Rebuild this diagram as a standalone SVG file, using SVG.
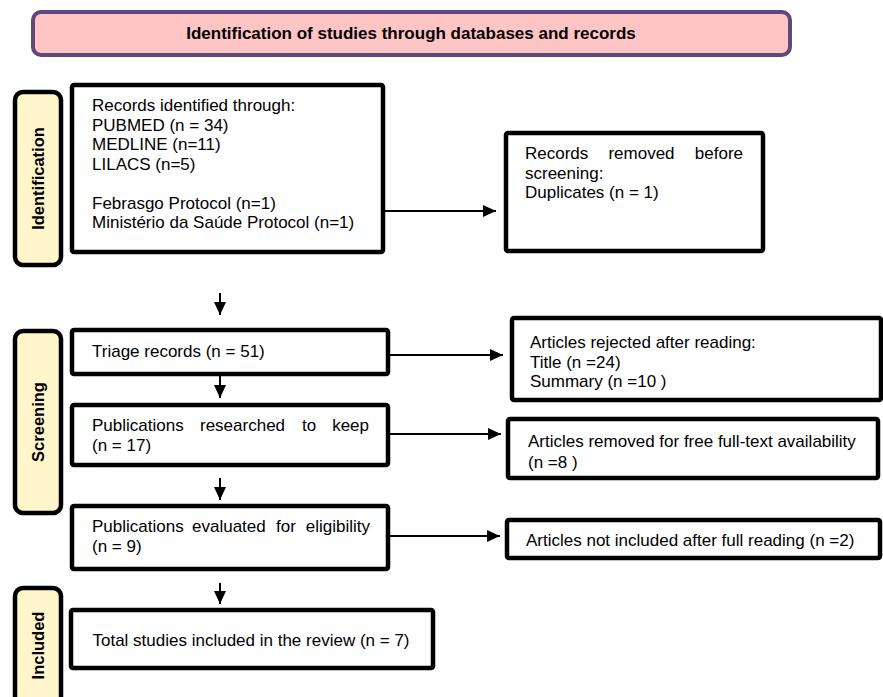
<svg xmlns="http://www.w3.org/2000/svg" width="883" height="697" viewBox="0 0 883 697">
<style>
.bg{fill:#ffffff}
.box{fill:#ffffff;stroke:#000000;stroke-width:4.5}
.side{fill:#FFF6CC;stroke:#000000;stroke-width:4.5}
.title{fill:#FFC4C4;stroke:#5E4A7A;stroke-width:4}
text{font-family:"Liberation Sans",Arial,sans-serif;fill:#000000}
.t{font-size:17px}
.tb{font-size:17px;font-weight:bold}
.sl{font-size:16.5px;font-weight:bold}
.c{stroke:#000000;stroke-width:2;fill:none}
</style>
<defs>
<marker id="ah" markerUnits="userSpaceOnUse" markerWidth="13" markerHeight="12" refX="13" refY="6" orient="auto">
<path d="M0,0 L13,6 L0,12 z" fill="#000000"/>
</marker>
</defs>
<rect class="bg" x="0" y="0" width="883" height="697"/>

<g id="title">
<rect class="title" x="33" y="12" width="757" height="43" rx="8"/>
<text class="tb" x="411" y="39" text-anchor="middle">Identification of studies through databases and records</text>
</g>

<g id="label-identification">
<rect class="side" x="15" y="92" width="46" height="173" rx="8"/>
<text class="sl" transform="translate(44,178.5) rotate(-90)" text-anchor="middle">Identification</text>
</g>
<g id="label-screening">
<rect class="side" x="15" y="331" width="46" height="182" rx="8"/>
<text class="sl" transform="translate(44,422) rotate(-90)" text-anchor="middle">Screening</text>
</g>
<g id="label-included">
<rect class="side" x="15" y="588" width="46" height="125" rx="8"/>
<text class="sl" transform="translate(44,645.5) rotate(-90)" text-anchor="middle">Included</text>
</g>

<g id="records-identified">
<rect class="box" x="72" y="85" width="311" height="167" rx="2"/>
<text class="t" x="92" y="111">Records identified through:</text>
<text class="t" x="92" y="130.5">PUBMED (n = 34)</text>
<text class="t" x="92" y="150">MEDLINE (n=11)</text>
<text class="t" x="92" y="169.5">LILACS (n=5)</text>
<text class="t" x="92" y="208.5">Febrasgo Protocol (n=1)</text>
<text class="t" x="92" y="228">Ministério da Saúde Protocol (n=1)</text>
</g>

<g id="records-removed">
<rect class="box" x="506" y="133" width="257" height="118" rx="2"/>
<text class="t" y="159"><tspan x="525">Records</tspan><tspan x="641.5" text-anchor="middle">removed</tspan><tspan x="743" text-anchor="end">before</tspan></text>
<text class="t" x="525" y="178.5">screening:</text>
<text class="t" x="525" y="198">Duplicates (n = 1)</text>
</g>

<g id="triage">
<rect class="box" x="72" y="330" width="316" height="44" rx="2"/>
<text class="t" x="92" y="357">Triage records (n = 51)</text>
</g>

<g id="rejected">
<rect class="box" x="512" y="318" width="369" height="82" rx="2"/>
<text class="t" x="530" y="348">Articles rejected after reading:</text>
<text class="t" x="530" y="367.5">Title (n =24)</text>
<text class="t" x="530" y="387">Summary (n =10 )</text>
</g>

<g id="researched">
<rect class="box" x="72" y="405" width="316" height="60" rx="2"/>
<text class="t" y="431"><tspan x="92">Publications</tspan><tspan x="200">researched</tspan><tspan x="302">to</tspan><tspan x="369" text-anchor="end">keep</tspan></text>
<text class="t" x="92" y="451">(n = 17)</text>
</g>

<g id="removed-fulltext">
<rect class="box" x="508" y="419" width="370" height="59" rx="2"/>
<text class="t" x="528" y="447">Articles removed for free full-text availability</text>
<text class="t" x="528" y="467.5">(n =8 )</text>
</g>

<g id="eligibility">
<rect class="box" x="72" y="506" width="316" height="63" rx="2"/>
<text class="t" y="532"><tspan x="92">Publications</tspan><tspan x="192">evaluated</tspan><tspan x="276">for</tspan><tspan x="370" text-anchor="end">eligibility</tspan></text>
<text class="t" x="92" y="552">(n = 9)</text>
</g>

<g id="not-included">
<rect class="box" x="507" y="520" width="373" height="38" rx="2"/>
<text class="t" x="526" y="546">Articles not included after full reading (n =2)</text>
</g>

<g id="total">
<rect class="box" x="71" y="610" width="362" height="58" rx="2"/>
<text class="t" x="251" y="646" text-anchor="middle">Total studies included in the review (n = 7)</text>
</g>

<g id="connectors">
<line class="c" x1="385" y1="211" x2="496" y2="211" marker-end="url(#ah)"/>
<line class="c" x1="390" y1="355" x2="503" y2="355" marker-end="url(#ah)"/>
<line class="c" x1="390" y1="434" x2="501" y2="434" marker-end="url(#ah)"/>
<line class="c" x1="390" y1="536" x2="500" y2="536" marker-end="url(#ah)"/>
<line class="c" x1="220" y1="293" x2="220" y2="315" marker-end="url(#ah)"/>
<line class="c" x1="220" y1="376" x2="220" y2="398" marker-end="url(#ah)"/>
<line class="c" x1="220" y1="478" x2="220" y2="500" marker-end="url(#ah)"/>
<line class="c" x1="220" y1="583" x2="220" y2="604" marker-end="url(#ah)"/>
</g>
</svg>
